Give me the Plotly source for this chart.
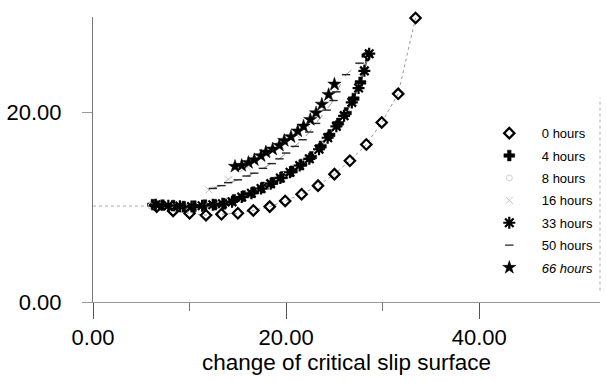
import plotly.graph_objects as go

# ---- data ----
x_0h = [6.6, 8.3, 10.0, 11.7, 13.3, 15.0, 16.6, 18.3, 19.9, 21.6, 23.3, 25.0, 26.6, 28.3, 29.9, 31.6, 33.4]
y_0h = [10.04, 9.59, 9.34, 9.14, 9.24, 9.34, 9.64, 10.04, 10.64, 11.35, 12.25, 13.46, 14.87, 16.58, 18.9, 21.91, 29.9]

x_4h = [6.2, 7.2, 8.3, 9.4, 10.5, 11.6, 12.6, 13.6, 14.6, 15.6, 16.6, 17.6, 18.6, 19.6, 20.6, 21.6, 22.6, 23.6, 24.5, 25.4, 26.2, 27.0, 27.7, 28.4]
y_4h = [10.24, 10.19, 10.14, 10.04, 10.09, 10.19, 10.24, 10.34, 10.75, 11.15, 11.55, 12.05, 12.56, 13.16, 13.76, 14.47, 15.27, 16.38, 17.59, 18.8, 19.9, 21.41, 23.12, 25.94]

x_8h = [0.0, 6.0, 8.0, 10.0, 12.0, 14.0, 16.0, 18.0, 20.0, 22.0, 24.0, 26.0, 27.5, 28.5]
y_8h = [10.1, 10.1, 10.2, 10.1, 10.3, 10.7, 11.3, 12.3, 13.5, 15.0, 17.0, 19.8, 22.6, 26.0]

x_16h = [12.0, 14.0, 16.0, 18.1, 19.5, 21.1, 22.1, 23.5]
y_16h = [11.8, 12.9, 14.2, 15.6, 16.4, 17.6, 18.7, 20.6]

x_33h = [6.5, 7.8, 9.0, 10.2, 11.3, 12.4, 13.4, 14.4, 15.4, 16.4, 17.4, 18.4, 19.4, 20.4, 21.4, 22.4, 23.4, 24.3, 25.2, 26.0, 26.8, 27.5, 28.1, 28.6]
y_33h = [10.24, 10.14, 10.09, 10.04, 10.14, 10.24, 10.34, 10.54, 11.05, 11.45, 11.95, 12.46, 13.06, 13.66, 14.37, 15.07, 16.08, 17.29, 18.49, 19.6, 21.01, 22.52, 24.33, 26.14]

x_50h = [12.4, 13.3, 14.0, 15.0, 15.9, 16.7, 17.6, 18.5, 19.3, 20.0, 20.9, 21.7, 22.4, 23.1, 24.2, 24.9, 25.2, 26.2, 27.6]
y_50h = [11.95, 12.25, 12.56, 12.86, 13.26, 13.56, 14.07, 14.57, 15.07, 15.68, 16.38, 17.08, 17.89, 18.8, 20.2, 21.21, 22.12, 23.93, 25.14]

x_66h = [14.7, 15.4, 16.1, 16.7, 17.4, 17.9, 18.6, 19.3, 19.8, 20.5, 21.2, 21.8, 22.5, 23.1, 23.7, 24.4, 25.0]
y_66h = [14.27, 14.37, 14.67, 14.97, 15.38, 15.78, 16.08, 16.48, 16.99, 17.39, 17.99, 18.5, 19.2, 19.9, 20.81, 21.82, 22.92]

x_ticks = [0, 20, 40]
x_tick_text = ["0.00", "20.00", "40.00"]
y_ticks = [0, 20]
y_tick_text = ["0.00", "20.00"]
x_title = "change of critical slip surface"

FONT = "Liberation Sans, Arial, sans-serif"

fig = go.Figure()

series = [
    # name, xs, ys, symbol, size, color, marker line width, line color, dash, marker start index
    ("0 hours", x_0h, y_0h, "diamond-open", 8, "black", 2.2, "#999999", "dot", 0),
    ("4 hours", x_4h, y_4h, "cross", 9, "black", 0.5, "#444444", "solid", 0),
    ("8 hours", x_8h, y_8h, "circle-open", 6, "#d0d0d0", 1, "#aaaaaa", "dot", 1),
    ("16 hours", x_16h, y_16h, "x-thin-open", 7, "#c4c4c4", 1, "#cccccc", "dash", 0),
    ("33 hours", x_33h, y_33h, "asterisk-open", 10, "black", 2.2, "#666666", "solid", 0),
    ("50 hours", x_50h, y_50h, "line-ew-open", 6, "#222222", 1.4, "#999999", "dash", 0),
    ("<i>66 hours</i>", x_66h, y_66h, "star", 10, "black", 0.5, "#888888", "dot", 0),
]

# connecting lines first (no legend entries)
for name, xs, ys, sym, size, col, lw, lcol, dash, start in series:
    fig.add_trace(go.Scatter(
        x=xs, y=ys, mode="lines", showlegend=False, hoverinfo="skip",
        line=dict(color=lcol, dash=dash, width=1), cliponaxis=False,
    ))

# markers with legend entries
for i, (name, xs, ys, sym, size, col, lw, lcol, dash, start) in enumerate(series):
    fig.add_trace(go.Scatter(
        x=xs[start:], y=ys[start:], name=name, mode="markers",
        legendgroup=f"g{i}", legendrank=i + 1,
        marker=dict(symbol=sym, size=size, color=col, line=dict(color=col, width=lw)),
        cliponaxis=False,
    ))

fig.update_layout(
    width=606, height=383,
    margin=dict(l=93, r=6, t=17, b=81),
    paper_bgcolor="white", plot_bgcolor="white",
    font=dict(family=FONT, color="black"),
    showlegend=True,
    legend=dict(
        x=0.757, y=0.645, xanchor="left", yanchor="top",
        font=dict(size=13, family=FONT, color="black"),
        itemwidth=55, tracegroupgap=2.5,
        traceorder="grouped",
        bgcolor="rgba(0,0,0,0)",
    ),
    xaxis=dict(
        range=[0, 52.5], tickmode="array", tickvals=x_ticks, ticktext=x_tick_text,
        showgrid=False, zeroline=False, showline=True, linecolor="#999999", linewidth=1,
        ticks="outside", ticklen=16, tickcolor="#555555", tickwidth=1,
        minor=dict(tickvals=[10, 30], ticks="outside", ticklen=8, tickcolor="#777777"),
        tickfont=dict(size=22, family=FONT, color="black"),
        title=dict(text=x_title, font=dict(size=22.5, family=FONT, color="black"), standoff=0),
    ),
    yaxis=dict(
        range=[0, 30], tickmode="array", tickvals=y_ticks, ticktext=y_tick_text,
        showgrid=False, zeroline=False, showline=True, linecolor="#777777", linewidth=1,
        ticks="outside", ticklen=10, tickcolor="#999999", tickwidth=1,
        tickfont=dict(size=22, family=FONT, color="black"),
        ticklabelstandoff=16,
    ),
)

# faint dotted right border
fig.add_shape(type="line", xref="paper", yref="y", x0=1, x1=1, y0=1.2, y1=21.5,
              line=dict(color="#aaaaaa", width=1, dash="dot"))

fig.write_html("out.html")
